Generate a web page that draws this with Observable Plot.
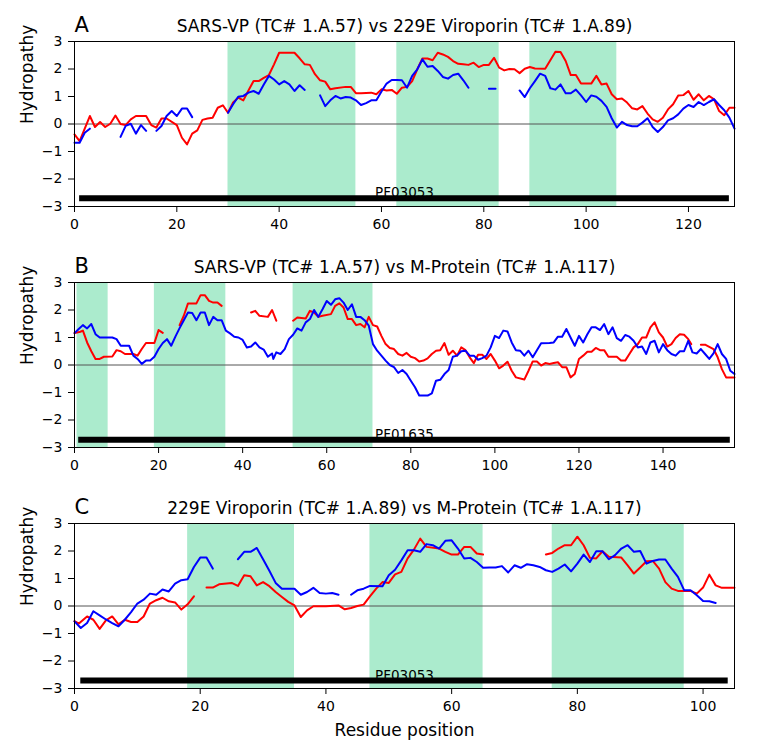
<!DOCTYPE html>
<html>
<head>
<meta charset="utf-8">
<script src="https://cdn.jsdelivr.net/npm/d3@7"></script>
<script src="https://cdn.jsdelivr.net/npm/@observablehq/plot@0.6"></script>
<style>
  body { margin: 0; background: white; }
  #chart { width: 759px; height: 745px; }
  #chart svg { display: block; }
</style>
</head>
<body>
<div id="chart"></div>
<script>
// ---------- Panel A: SARS-VP vs 229E Viroporin ----------
const titleA = "SARS-VP (TC# 1.A.57) vs 229E Viroporin (TC# 1.A.89)";
const xMaxA = 129;
const xTicksA = [0, 20, 40, 60, 80, 100, 120];
const regionsA = [[30, 55], [63, 83], [89, 106]];
const pfamA = {name: "PF03053", start: 1, end: 128, y: -2.7};
const redA = [[0,-0.38],[1,-0.62],[3,0.29],[4,-0.11],[5,0.07],[6,-0.11],[7,0.01],[8,0.31],[9,0.0],[10,-0.04],[11,0.17],[12,0.29],[14,0.29],[15,-0.04],[16,-0.13],[17,0.2],[18,0.2],[20,-0.04],[21,-0.5],[22,-0.74],[23,-0.35],[24,-0.23],[25,0.15],[26,0.2],[27,0.23],[28,0.59],[29,0.68],[30,0.41],[31,0.78],[32,0.96],[33,0.86],[34,1.22],[35,1.56],[36,1.56],[37,1.68],[38,1.78],[39,2.17],[40,2.59],[43,2.59],[44,2.39],[45,2.17],[46,2.15],[47,1.81],[48,1.59],[49,1.54],[50,1.26],[51,1.3],[53,1.35],[54,1.35],[55,1.12],[56,1.12],[58,1.14],[59,1.08],[60,1.26],[61,1.22],[62,1.24],[63,1.1],[64,1.32],[65,1.35],[66,1.56],[67,1.99],[68,2.38],[69,2.38],[70,2.32],[71,2.59],[72,2.53],[73,2.44],[74,2.29],[75,2.19],[76,2.17],[77,2.15],[78,2.23],[79,2.07],[80,2.15],[81,2.15],[82,2.41],[83,2.05],[84,1.95],[85,2.0],[86,1.99],[87,1.85],[88,2.01],[89,2.07],[90,2.02],[92,2.01],[93,2.32],[94,2.63],[95,2.62],[96,2.29],[97,1.78],[98,1.78],[99,1.47],[101,1.47],[102,1.75],[103,1.44],[104,1.47],[105,1.08],[106,0.9],[107,0.93],[108,0.78],[109,0.57],[110,0.53],[111,0.65],[112,0.38],[113,0.17],[114,0.08],[115,0.23],[116,0.53],[117,0.72],[118,1.04],[119,1.05],[120,1.2],[121,0.88],[122,1.08],[123,0.86],[124,1.02],[125,0.9],[126,0.47],[127,0.32],[128,0.59],[129,0.59]];
const blueA = [[0,-0.68],[1,-0.68],[2,-0.32],[3,-0.17],[3.5,null],
  [9,-0.47],[10,-0.07],[11,0.01],[12,-0.35],[13,-0.04],[14,-0.25],[15,null],
  [16,-0.25],[17,-0.07],[18,0.29],[19,0.47],[20,0.29],[21,0.56],[22,0.56],[23,0.25],[25,null],
  [30,0.41],[31,0.72],[32,0.99],[33,1.02],[34,1.14],[35,1.2],[36,1.1],[37,1.44],[38,1.75],[39,1.62],[40,1.44],[41,1.56],[42,1.44],[43,1.2],[44,1.41],[45,1.24],[46,null],
  [48,1.04],[49,0.65],[50,0.86],[51,1.02],[52,0.93],[53,0.98],[54,0.96],[55,0.86],[56,0.69],[57,0.76],[58,0.86],[59,0.86],[60,1.18],[61,1.47],[62,1.6],[63,1.6],[64,1.59],[65,1.32],[66,1.75],[67,1.99],[68,2.35],[69,2.08],[70,2.11],[71,1.93],[72,1.71],[73,1.65],[74,1.78],[75,1.83],[76,1.59],[77,1.32],[79,null],
  [81,1.28],[82.3,1.28],[84,null],
  [87,1.22],[88,0.98],[89,1.3],[90,1.56],[91,1.83],[92,1.75],[93,1.3],[94,1.25],[95,1.44],[96,1.12],[97,1.12],[98,1.25],[99,1.04],[100,0.8],[101,1.04],[102,0.99],[103,0.84],[104,0.62],[105,0.21],[106,-0.13],[107,0.08],[108,-0.04],[109,-0.08],[110,-0.08],[111,0.05],[112,0.21],[113,-0.11],[114,-0.29],[115,-0.11],[116,0.13],[117,0.21],[118,0.35],[119,0.56],[120,0.69],[121,0.62],[122,0.8],[123,0.69],[124,0.8],[125,0.9],[126,0.69],[127,0.5],[128,0.23],[129,-0.17]];

// ---------- Panel B: SARS-VP vs M-Protein ----------
const titleB = "SARS-VP (TC# 1.A.57) vs M-Protein (TC# 1.A.117)";
const xMaxB = 157;
const xTicksB = [0, 20, 40, 60, 80, 100, 120, 140];
const regionsB = [[0.6, 8], [19, 36], [52, 71]];
const pfamB = {name: "PF01635", start: 1, end: 156, y: -2.72};
const redB = [[0,1.16],[1.4,1.21],[2,1.25],[3,0.82],[4,0.5],[5,0.22],[6,0.22],[7,0.3],[9,0.31],[10,0.54],[11,0.5],[12,0.4],[14,0.4],[15,0.34],[16,0.58],[17,0.8],[19,0.8],[20,1.27],[21,1.17],[22,null],
  [25,1.45],[26,1.79],[27,2.24],[29,2.24],[30,2.54],[31,2.54],[32,2.33],[33,2.27],[34,2.27],[35,2.15],[36,null],
  [42,1.91],[43,1.97],[44,1.79],[46,1.75],[47,2.0],[48,1.61],[50,null],
  [52,1.61],[53,1.73],[55,1.69],[56,1.97],[57,1.91],[58,1.75],[59,1.79],[61,1.85],[62,2.15],[63,2.24],[64,2.09],[65,1.67],[66,1.67],[67,1.45],[68,1.49],[69,1.37],[70,1.75],[71,1.45],[72,1.4],[73,1.06],[74,0.76],[75,0.62],[76,0.58],[77,0.4],[78,0.34],[79,0.44],[80,0.3],[81,0.25],[82,0.13],[83,0.16],[84,0.24],[85,0.4],[86,0.52],[87,0.54],[88,0.8],[89,0.37],[90,0.52],[91,0.34],[92,0.64],[93,0.54],[94,0.28],[95,0.07],[96,0.37],[97,0.37],[98,0.22],[99,0.4],[100,0.16],[101,-0.12],[102,-0.02],[103,0.12],[104,-0.21],[105,-0.45],[107,-0.53],[108,-0.21],[109,0.13],[110,0.13],[111,-0.02],[112,0.07],[113,0.04],[114,0.07],[115,0.1],[116,-0.08],[117,-0.08],[118,-0.45],[119,-0.33],[120,0.22],[121,0.34],[122,0.48],[123,0.48],[124,0.62],[125,0.54],[126,0.54],[127,0.3],[129,0.3],[130,0.16],[131,0.16],[132,0.4],[133,0.64],[134,0.76],[135,1.0],[136,1.0],[137,1.37],[138,1.55],[139,1.19],[140,1.0],[141,0.67],[142,0.76],[143,0.98],[144,1.12],[145,1.1],[146,0.94],[146.7,0.76],[147.8,null],
  [149,0.74],[150,0.74],[152,0.58],[153,0.28],[154,-0.15],[155,-0.45],[157,-0.45]];
const blueB = [[0,1.16],[1,1.31],[2,1.45],[3,1.33],[4,1.49],[5,1.12],[6,1.0],[9,1.0],[10,0.94],[11,0.7],[13,0.7],[14,0.34],[15,0.22],[16,0.04],[17,0.16],[18,0.16],[19,0.3],[20,0.58],[21,0.8],[22,0.94],[23,0.7],[24,1.03],[25,1.34],[26,1.63],[27,1.91],[28,1.89],[29,1.63],[30,1.91],[31,1.91],[32,1.45],[33,1.75],[34,1.63],[35,1.63],[36,1.25],[37,1.15],[38,1.03],[39,1.0],[40,0.91],[41,0.64],[42,0.67],[43,0.82],[44,0.64],[45,0.56],[46,0.3],[47,0.42],[47.3,0.22],[48,0.46],[49,0.4],[50,0.58],[51,0.94],[52,1.1],[53,1.33],[54,1.25],[55,1.55],[56,1.67],[57,2.0],[58,1.75],[59,2.03],[60,2.33],[61,2.19],[62,2.39],[63,2.43],[64,2.27],[65,2.0],[66,2.21],[67,1.75],[68,1.75],[69,1.63],[70,1.43],[71,0.76],[72,0.52],[73,0.34],[74,0.16],[75,0.0],[76,-0.08],[77,-0.29],[78,-0.18],[79,-0.33],[80,-0.57],[81,-0.81],[82,-1.11],[84,-1.11],[85,-1.03],[86,-0.57],[87,-0.54],[88,-0.33],[89,-0.18],[90,0.3],[91,0.34],[92,0.5],[93,0.52],[94,0.34],[95,0.34],[96,0.19],[97,0.25],[98,0.34],[99,0.64],[100,1.06],[101,0.98],[102,1.25],[103,1.22],[104,0.82],[105,0.54],[106,0.52],[107,0.34],[108,0.52],[109,0.28],[110,0.54],[111,0.79],[113,0.8],[114,0.82],[115,1.03],[116,1.03],[117,1.31],[118,1.0],[119,0.7],[120,1.06],[121,0.82],[122,1.12],[123,1.37],[124,1.37],[125,1.27],[126,1.49],[127,1.12],[128,1.37],[129,0.98],[130,0.88],[131,1.09],[132,1.03],[133,0.88],[134,0.64],[135,0.67],[136,0.4],[137,0.82],[138,0.88],[139,0.46],[140,0.76],[141,0.54],[142,0.4],[143,0.34],[144,0.5],[145,0.5],[146,0.88],[147,0.46],[148,0.42],[149,0.58],[150,0.4],[151,0.22],[152,0.42],[153,0.76],[154,0.4],[155,0.22],[156,-0.21],[157,-0.33]];

// ---------- Panel C: 229E Viroporin vs M-Protein ----------
const titleC = "229E Viroporin (TC# 1.A.89) vs M-Protein (TC# 1.A.117)";
const xMaxC = 105;
const xTicksC = [0, 20, 40, 60, 80, 100];
const regionsC = [[18, 35], [47, 65], [76, 97]];
const pfamC = {name: "PF03053", start: 1, end: 104, y: -2.71};
const redC = [[0,-0.55],[0.7,-0.64],[2,-0.38],[3,-0.5],[4,-0.83],[5,-0.52],[6,-0.38],[7,-0.67],[8,-0.5],[9,-0.58],[10,-0.58],[11,-0.38],[12,0.09],[13,0.21],[14,0.3],[15,0.17],[16,0.13],[17,-0.13],[18,0.06],[19,0.35],[20,null],
  [21,0.67],[22,0.67],[23,0.79],[25,0.84],[26,0.73],[27,1.12],[28,1.08],[29,0.75],[30,0.87],[31,0.72],[32,0.51],[33,0.33],[34,0.15],[35,0.02],[36,-0.4],[37,-0.16],[38,-0.01],[40,-0.01],[42,0.02],[43,-0.12],[44,-0.07],[45,0.0],[46,0.05],[47,0.35],[48,0.63],[49,0.87],[50,0.84],[51,1.15],[52,1.24],[53,1.73],[54,2.05],[55,2.45],[56,2.15],[58,2.09],[59,1.97],[60,1.87],[61,1.87],[62,2.15],[63,2.15],[64,1.91],[65,1.87],[70,null],
  [75,1.87],[76,1.93],[77,2.09],[78,2.21],[79,2.21],[80,2.52],[81,2.21],[82,1.75],[83,1.73],[84,1.99],[85,1.79],[87,1.76],[88,1.48],[89,1.18],[90,1.4],[91,1.63],[92,1.64],[93,1.36],[94,0.87],[95,0.63],[96,0.55],[98,0.55],[99,0.45],[100,0.67],[101,1.14],[102,0.75],[103,0.66],[105,0.66]];
const blueC = [[0,-0.56],[1,-0.8],[2,-0.62],[3,-0.19],[4,-0.34],[5,-0.49],[6,-0.62],[7,-0.74],[8,-0.5],[9,-0.22],[10,0.09],[11,0.23],[12,0.45],[13,0.41],[14,0.6],[15,0.53],[16,0.81],[17,0.94],[18,0.97],[19,1.42],[20,1.76],[21,1.76],[22,1.36],[24,null],
  [26,1.7],[27,1.97],[28,1.97],[29,2.11],[30,1.7],[31,1.28],[32,0.84],[33,0.63],[35,0.63],[36,0.41],[37,0.51],[38,0.66],[39,0.47],[40,0.45],[41,0.47],[42,0.41],[43,null],
  [44,0.41],[45,0.57],[46,0.63],[47,0.73],[49,0.72],[50,1.12],[51,1.32],[52,1.66],[53,2.03],[54,2.03],[55,1.97],[56,2.25],[57,2.21],[58,2.09],[59,2.37],[60,2.39],[61,2.09],[62,1.73],[63,1.75],[64,1.6],[65,1.39],[66,1.4],[67,1.4],[68,1.45],[69,1.22],[70,1.48],[71,1.39],[72,1.52],[73,1.48],[74,1.42],[75,1.3],[76,1.24],[77,1.36],[78,1.51],[79,1.26],[80,1.54],[81,1.87],[82,1.6],[83,1.99],[84,1.99],[85,1.7],[86,1.85],[87,2.09],[88,2.21],[89,1.97],[90,2.0],[91,1.54],[92,1.64],[93,1.69],[94,1.69],[95,1.36],[96,1.06],[97,0.57],[98,0.57],[99,0.39],[100,0.18],[101,0.17],[102,0.11]];

const yTicks = [-3, -2, -1, 0, 1, 2, 3];
const yLabel = "Hydropathy";
const xLabel = "Residue position";

const GREEN = "#abebcd";
const FONT = "DejaVu Sans, sans-serif";
const fmt = d => (d < 0 ? "\u2212" + (-d) : String(d));

function panel(letter, title, xMax, xTicks, regions, pfam, red, blue, withXLabel) {
  const height = withXLabel ? 263 : 241;
  const marks = [
    Plot.rect(regions, {x1: d => d[0], x2: d => d[1], fill: GREEN}),
    Plot.ruleY([0], {stroke: "#555", strokeWidth: 1}),
    Plot.ruleY([pfam], {y: "y", x1: "start", x2: "end", stroke: "black", strokeWidth: 6}),
    Plot.text([pfam], {x: d => (d.start + d.end) / 2, y: "y", text: "name", lineAnchor: "bottom", dy: -1, fontSize: 13.5, fill: "black"}),
    Plot.line(red, {x: d => d[0], y: d => d[1], stroke: "#ff0000", strokeWidth: 2}),
    Plot.line(blue, {x: d => d[0], y: d => d[1], stroke: "#0000ff", strokeWidth: 2}),
    Plot.frame({stroke: "black", strokeWidth: 1}),
    Plot.axisX({ticks: xTicks, tickSize: 6, tickPadding: 7, label: null, fontSize: 14, tickFormat: fmt}),
    Plot.axisY({ticks: yTicks, tickSize: 6, tickPadding: 6, label: null, fontSize: 14, tickFormat: fmt}),
    Plot.text([letter], {frameAnchor: "top-left", textAnchor: "start", lineAnchor: "bottom", dy: -10, fontSize: 21}),
    Plot.text([title], {frameAnchor: "top", lineAnchor: "bottom", dy: -10, fontSize: 17}),
    Plot.text([yLabel], {frameAnchor: "left", dx: -47, rotate: -90, fontSize: 17})
  ];
  if (withXLabel) {
    marks.push(Plot.text([xLabel], {frameAnchor: "bottom", lineAnchor: "bottom", dy: 47, fontSize: 17}));
  }
  return Plot.plot({
    width: 759,
    height,
    marginLeft: 74,
    marginRight: 25,
    marginTop: 41,
    marginBottom: height - 206,
    x: {domain: [0, xMax]},
    y: {domain: [-3, 3]},
    style: {fontFamily: FONT, fontSize: "14px", background: "white", overflow: "visible", color: "black"},
    marks
  });
}

const chart = document.getElementById("chart");
chart.appendChild(panel("A", titleA, xMaxA, xTicksA, regionsA, pfamA, redA, blueA, false));
chart.appendChild(panel("B", titleB, xMaxB, xTicksB, regionsB, pfamB, redB, blueB, false));
chart.appendChild(panel("C", titleC, xMaxC, xTicksC, regionsC, pfamC, redC, blueC, true));
</script>
</body>
</html>
